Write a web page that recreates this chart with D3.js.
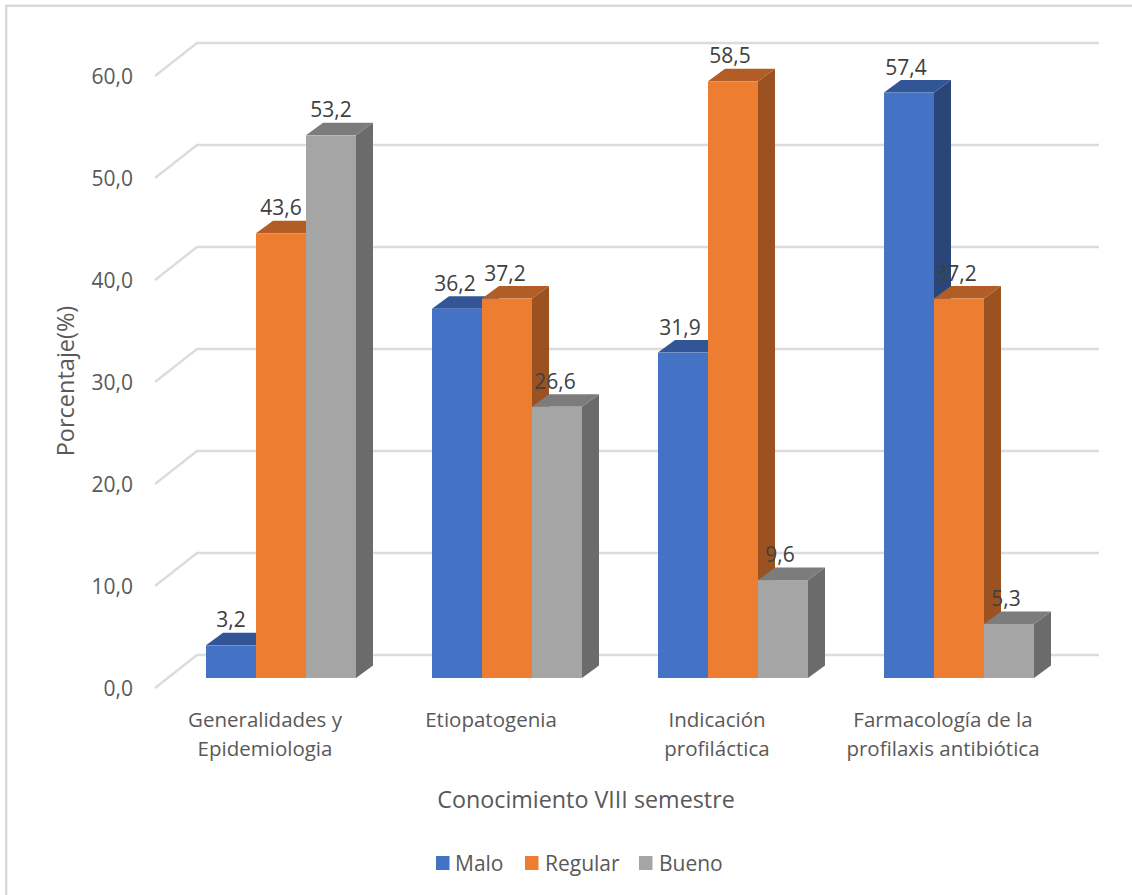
<!DOCTYPE html>
<html>
<head>
<meta charset="utf-8">
<script src="https://cdn.jsdelivr.net/npm/d3@7"></script>
<style>
  html, body { margin: 0; padding: 0; background: #fff; }
  svg { display: block; }
  text { font-family: "Open Sans", "Noto Sans", sans-serif; }
</style>
</head>
<body>
<svg id="chart" width="1132" height="895"></svg>
<script>
const categories = [
  ["Generalidades y", "Epidemiologia"],
  ["Etiopatogenia"],
  ["Indicación", "profiláctica"],
  ["Farmacología de la", "profilaxis antibiótica"]
];
const seriesNames = ["Malo", "Regular", "Bueno"];
const malo = [3.2, 36.2, 31.9, 57.4];
const regular = [43.6, 37.2, 58.5, 37.2];
const bueno = [53.2, 26.6, 9.6, 5.3];
const seriesValues = [malo, regular, bueno];
const faceColors = ["#4472c4", "#ed7d31", "#a5a5a5"];
const topColors = ["#315596", "#b25d25", "#7c7c7c"];
const sideColors = ["#2a4679", "#9c5220", "#6b6b6b"];
const yTicks = [0, 10, 20, 30, 40, 50, 60];
const fmt = v => v.toFixed(1).replace(".", ",");

const svg = d3.select("#chart");
const depthX = 17, depthY = 12.5;

const y = d3.scaleLinear().domain([0, 60]).range([678, 66]);
const x0 = d3.scaleBand().domain(d3.range(categories.length)).range([168, 1072]).paddingInner(76 / 226).paddingOuter(38 / 226);
const x1 = d3.scaleBand().domain(d3.range(seriesNames.length)).range([0, x0.bandwidth()]);

// Chart frame: only the top and left edges fall inside the page
svg.append("path").attr("fill", "none").attr("stroke", "#d9d9d9").attr("stroke-width", 2.4)
  .attr("d", d3.line()([[6.2, 895], [6.2, 5.8], [1132, 5.8]]));

// Gridlines: a receding stub on the side wall, then the run along the back wall
const wallLeft = 155, backLeft = wallLeft + 42, backRight = 1099, wallDy = 33;
const grid = svg.append("g").attr("fill", "none").attr("stroke", "#dcdcdc").attr("stroke-width", 2.4);
yTicks.forEach(t => {
  const yb = y(t) - 23;
  grid.append("path").attr("d", d3.line()([[wallLeft, yb + wallDy], [backLeft, yb], [backRight, yb]]));
});

// Value axis labels
svg.append("g").selectAll("text").data(yTicks).join("text")
  .attr("x", 133).attr("y", d => y(d) + 18).attr("text-anchor", "end")
  .attr("font-size", 21).attr("fill", "#595959").text(fmt);

svg.append("text").attr("transform", "translate(74,381) rotate(-90)").attr("text-anchor", "middle")
  .attr("font-size", 23.5).attr("fill", "#595959").text("Porcentaje(%)");

// Bars as three visible faces: side, top, front. Later series overlap earlier ones.
const bars = svg.append("g");
categories.forEach((c, ci) => {
  seriesValues.forEach((vals, si) => {
    const v = vals[ci];
    const xl = x0(ci) + x1(si), xr = xl + x1.bandwidth();
    const yt = y(v), yb = y(0);
    const g = bars.append("g");
    g.append("path").attr("fill", sideColors[si])
      .attr("d", d3.line()([[xr, yt], [xr + depthX, yt - depthY], [xr + depthX, yb - depthY], [xr, yb]]) + "Z");
    g.append("path").attr("fill", topColors[si])
      .attr("d", d3.line()([[xl, yt], [xl + depthX, yt - depthY], [xr + depthX, yt - depthY], [xr, yt]]) + "Z");
    g.append("rect").attr("x", xl).attr("y", yt).attr("width", xr - xl).attr("height", yb - yt)
      .attr("fill", faceColors[si]);
  });
});

// Value labels above each bar
const labelShift = [0, -2, -3, -3];
categories.forEach((c, ci) => {
  seriesValues.forEach((vals, si) => {
    svg.append("text").attr("x", x0(ci) + x1(si) + x1.bandwidth() / 2 + labelShift[ci])
      .attr("y", y(vals[ci]) - 18).attr("text-anchor", "middle")
      .attr("font-size", 21).attr("fill", "#404040").text(fmt(vals[ci]));
  });
});

// Category labels
categories.forEach((lines, ci) => {
  lines.forEach((line, li) => {
    svg.append("text").attr("x", x0(ci) + x0.bandwidth() / 2 - 16).attr("y", 727 + li * 29)
      .attr("text-anchor", "middle").attr("font-size", 20.5).attr("fill", "#595959").text(line);
  });
});

svg.append("text").attr("x", 586).attr("y", 808).attr("text-anchor", "middle")
  .attr("font-size", 23.3).attr("fill", "#595959").text("Conocimiento VIII semestre");

// Legend
const legendSwatchX = [436, 525, 639];
const legendTextX = [455, 545, 659];
seriesNames.forEach((n, i) => {
  svg.append("rect").attr("x", legendSwatchX[i]).attr("y", 856).attr("width", 13.5).attr("height", 14).attr("fill", faceColors[i]);
  svg.append("text").attr("x", legendTextX[i]).attr("y", 871).attr("font-size", 21).attr("fill", "#595959").text(n);
});
</script>
</body>
</html>
